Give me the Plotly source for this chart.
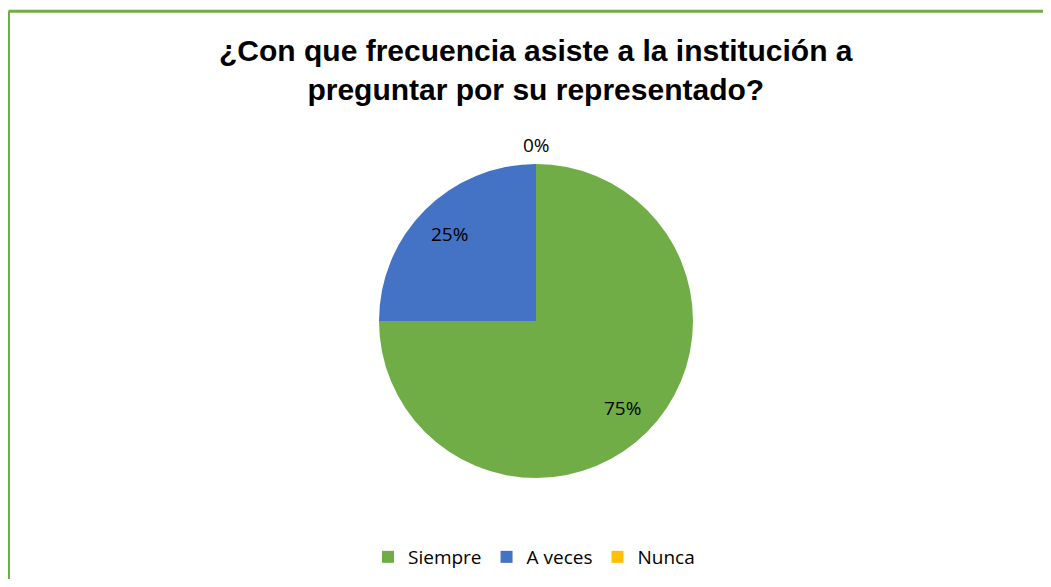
import math
import plotly.graph_objects as go

categories = ["Siempre", "A veces", "Nunca"]
values = [75, 25, 0]
colors = ["#70AD47", "#4472C4", "#FFC000"]

# page body has an 8px margin in the exported html
OFF = 8
W, H = 1051 - 2 * OFF, 587 - 2 * OFF


def px(x):
    return (x - OFF) / W


def py(y):
    return 1 - (y - OFF) / H


# pie geometry (page pixels)
CX, CY, R = 536, 321, 157

fig = go.Figure()
fig.add_trace(go.Pie(
    labels=categories,
    values=values,
    sort=False,
    direction="clockwise",
    rotation=0,
    marker=dict(colors=colors, line=dict(width=0)),
    textinfo="none",
    domain=dict(x=[px(CX - R), px(CX + R)], y=[py(CY + R), py(CY - R)]),
    showlegend=True,
    hoverinfo="label+percent",
))

# data labels placed along each slice's bisector
total = sum(values)
annotations = []
cum = 0.0
for v in values:
    frac = v / total
    mid = (cum + frac / 2) * 2 * math.pi
    cum += frac
    rr = 0.78 * R if v > 0 else 1.12 * R
    lx = CX + rr * math.sin(mid)
    ly = CY - rr * math.cos(mid)
    annotations.append(dict(
        x=px(lx), y=py(ly), xref="paper", yref="paper",
        text=f"{round(frac * 100)}%", showarrow=False,
        xanchor="center", yanchor="middle",
        font=dict(family="Open Sans, sans-serif", size=19, color="#000000"),
    ))

annotations.append(dict(
    x=px(536), y=py(70.5), xref="paper", yref="paper",
    text="<b>¿Con que frecuencia asiste a la institución a<br>preguntar por su representado?</b>",
    showarrow=False, xanchor="center", yanchor="middle",
    font=dict(family="Liberation Sans, Arial, sans-serif", size=30, color="#000000"),
))

fig.update_layout(
    width=W,
    height=H,
    margin=dict(l=0, r=0, t=0, b=0),
    paper_bgcolor="white",
    plot_bgcolor="white",
    annotations=annotations,
    legend=dict(
        orientation="h",
        x=px(534),
        xanchor="center",
        y=py(557),
        yanchor="middle",
        font=dict(family="Open Sans, sans-serif", size=19, color="#000000"),
        itemwidth=30,
    ),
    shapes=[
        dict(type="line", xref="paper", yref="paper",
             x0=px(8.5), x1=1, y0=py(11.3), y1=py(11.3),
             line=dict(color="#70AD47", width=3)),
        dict(type="line", xref="paper", yref="paper",
             x0=px(8.5), x1=px(8.5), y0=0, y1=py(11.3),
             line=dict(color="#70AD47", width=3)),
    ],
)

fig.write_html("out.html")
